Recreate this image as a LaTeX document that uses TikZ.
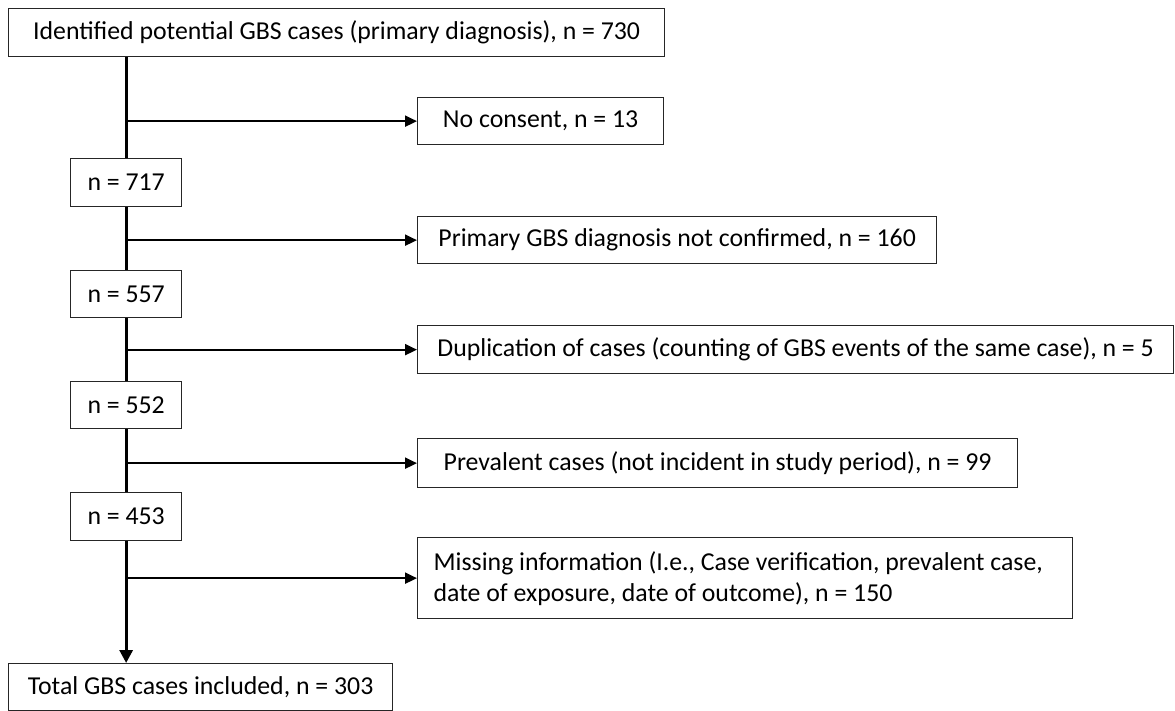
\documentclass[tikz,border=0pt]{standalone}
\usepackage{fontspec}
\setmainfont{Carlito}
\usetikzlibrary{arrows.meta}
\begin{document}
\begin{tikzpicture}[x=1pt,y=-1pt,
  box/.style={draw=black!85, line width=1.3pt, fill=white, anchor=north west, inner sep=0pt, align=center, font=\fontsize{25.8}{31}\selectfont},
  trunk/.style={line width=3pt},
  branch/.style={line width=2pt, -{Triangle[length=12pt,width=11pt]}},
]
\useasboundingbox (0,0) rectangle (1175,710);
\node[box, minimum width=656pt, minimum height=48pt] (top) at (8,8) {Identified potential GBS cases (primary diagnosis), n = 730};
\node[box, minimum width=246pt, minimum height=47pt] (nc) at (417,97) {No consent, n = 13};
\node[box, minimum width=111pt, minimum height=48pt] (n717) at (70,158) {n = 717};
\node[box, minimum width=519pt, minimum height=47pt] (prim) at (417,216) {Primary GBS diagnosis not confirmed, n = 160};
\node[box, minimum width=111pt, minimum height=47pt] (n557) at (70,270) {n = 557};
\node[box, minimum width=756pt, minimum height=48pt] (dup) at (417,325) {Duplication of cases (counting of GBS events of the same case), n = 5};
\node[box, minimum width=111pt, minimum height=47pt] (n552) at (70,381) {n = 552};
\node[box, minimum width=600pt, minimum height=49pt] (prev) at (417,438) {Prevalent cases (not incident in study period), n = 99};
\node[box, minimum width=111pt, minimum height=48pt] (n453) at (70,492) {n = 453};
\node[box, align=flush left, inner xsep=16pt, text width=623pt, minimum height=81pt] (miss) at (417,537) {Missing information (I.e., Case verification, prevalent case,\\date of exposure, date of outcome), n = 150};
\node[box, minimum width=384pt, minimum height=47pt] (total) at (8,663) {Total GBS cases included, n = 303};

\draw[trunk] (top.south -| n717) -- (n717.north);
\draw[trunk] (n717.south) -- (n557.north);
\draw[trunk] (n557.south) -- (n552.north);
\draw[trunk] (n552.south) -- (n453.north);
\draw[trunk, -{Triangle[length=13pt,width=13pt]}] (n453.south) -- (total.north -| n453);

\draw[branch] (nc.west -| n717) -- (nc.west);
\draw[branch] (prim.west -| n717) -- (prim.west);
\draw[branch] (dup.west -| n717) -- (dup.west);
\draw[branch] (prev.west -| n717) -- (prev.west);
\draw[branch] (miss.west -| n717) -- (miss.west);
\end{tikzpicture}
\end{document}
